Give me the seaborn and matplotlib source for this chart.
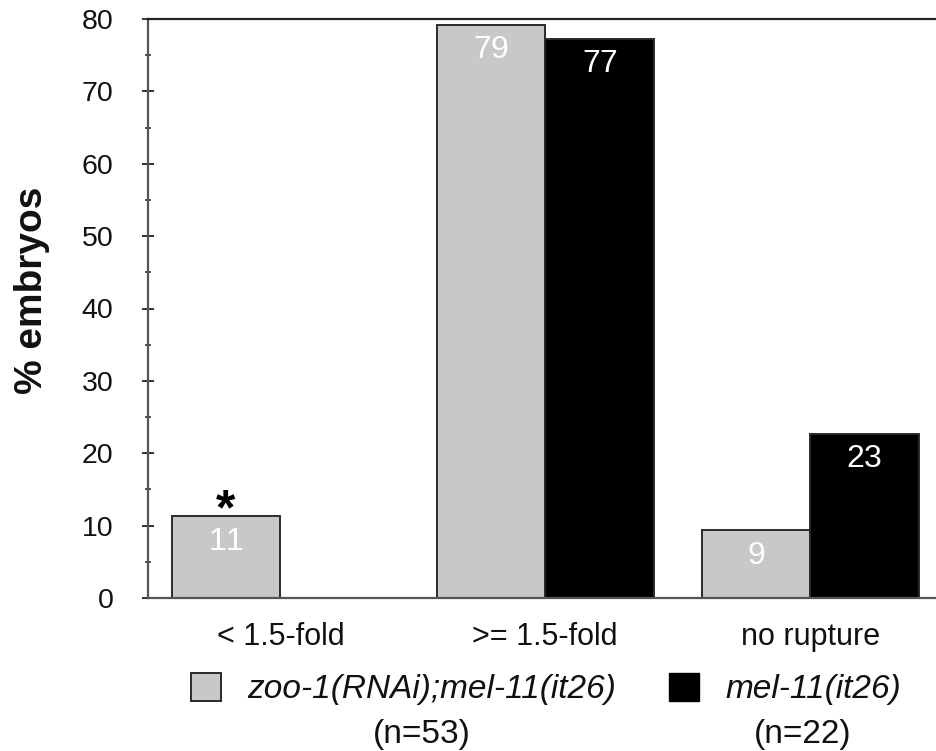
import numpy as np
import pandas as pd
import matplotlib
matplotlib.use("Agg")
import matplotlib.pyplot as plt
import matplotlib.patches as mpatches
from matplotlib.ticker import MultipleLocator
import seaborn as sns

categories = ["< 1.5-fold", ">= 1.5-fold", "no rupture"]
groups = ["zoo-1(RNAi);mel-11(it26)", "mel-11(it26)"]
group_n = ["(n=53)", "(n=22)"]
zoo_values = [11.3, 79.2, 9.4]
mel_values = [np.nan, 77.3, 22.7]
zoo_labels = ["11", "79", "9"]
mel_labels = ["", "77", "23"]
yticks = [0, 10, 20, 30, 40, 50, 60, 70, 80]

sns.set_theme(style="white")
plt.rcParams["font.family"] = ["Liberation Sans", "DejaVu Sans"]
plt.rcParams["mathtext.fontset"] = "custom"
plt.rcParams["mathtext.rm"] = "Liberation Sans"
plt.rcParams["mathtext.bf"] = "Liberation Sans:bold"

df = pd.DataFrame({
    "category": categories * 2,
    "group": [groups[0]] * 3 + [groups[1]] * 3,
    "value": zoo_values + mel_values,
})

fig = plt.figure(figsize=(9.37, 7.51), dpi=100)
ax = fig.add_axes([148 / 937, 153 / 751, 794.5 / 937, 579 / 751])

colors = {groups[0]: "#c8c8c8", groups[1]: "#000000"}
sns.barplot(data=df, x="category", y="value", hue="group", order=categories,
            hue_order=groups, palette=colors, width=0.82, saturation=1,
            edgecolor="#2a2a2a", linewidth=1.4, ax=ax, legend=False)

ax.set_xlim(-0.5, 2.5)
ax.set_ylim(0, 80)
ax.set_yticks(yticks)
ax.yaxis.set_minor_locator(MultipleLocator(5))
spine_col = "#555555"
for s in ["left", "top", "bottom"]:
    ax.spines[s].set_visible(True)
    ax.spines[s].set_color(spine_col)
    ax.spines[s].set_linewidth(1.6)
ax.spines["right"].set_visible(False)
ax.spines["top"].set_color("#222222")
ax.tick_params(axis="y", which="major", direction="inout", length=8, width=1.4,
               color="#333333", labelsize=20.5, pad=21, left=True, labelcolor="#111111")
ax.tick_params(axis="y", which="minor", direction="inout", length=5, width=1.2,
               color="#333333", left=True)
ax.tick_params(axis="x", length=0, labelsize=22, pad=17, colors="#111111")
ax.set_xlabel("")
ax.set_ylabel("% embryos", fontsize=28, fontweight="bold", color="#111111")
ax.yaxis.set_label_coords(-0.123, 0.532)

# value labels (mathtext gives tight ink boxes)
label_sets = [zoo_labels, mel_labels]
for cont, labs in zip(ax.containers, label_sets):
    for bar in cont:
        h = bar.get_height()
        xc = bar.get_x() + bar.get_width() / 2
        idx = int(round(xc))
        lab = labs[idx]
        if lab and np.isfinite(h):
            ax.annotate(r"$\mathrm{%s}$" % lab, (xc, h), xytext=(0, -18.5),
                        textcoords="offset points", ha="center", va="center",
                        color="white", fontsize=23)

# significance star above first bar
b0 = ax.containers[0][0]
ax.annotate(r"$\mathbf{*}$", (b0.get_x() + b0.get_width() / 2, b0.get_height()),
            xytext=(0, -5), textcoords="offset points", ha="center", va="baseline",
            fontsize=36, color="black")

handles = [mpatches.Patch(facecolor="#c8c8c8", edgecolor="#2a2a2a", linewidth=1.4),
           mpatches.Patch(facecolor="#000000", edgecolor="#000000")]
leg = fig.legend(handles, groups, loc="center left", bbox_to_anchor=(191 / 937, 1 - 689 / 751),
                 ncol=2, frameon=False, borderpad=0, borderaxespad=0,
                 handlelength=0.9, handleheight=0.9, handletextpad=0.78,
                 columnspacing=1.6, prop={"size": 24, "style": "italic"})
for t in leg.get_texts():
    t.set_color("#111111")

fig.canvas.draw()
inv = fig.transFigure.inverted()
for txt, n in zip(leg.get_texts(), group_n):
    bb = txt.get_window_extent()
    xc = (bb.x0 + bb.x1) / 2 - 10
    fx, _ = inv.transform((xc, 0))
    fig.text(fx, 1 - 734 / 751, n, ha="center", va="center", fontsize=24, color="#111111")

fig.savefig("out.png", dpi=100)
